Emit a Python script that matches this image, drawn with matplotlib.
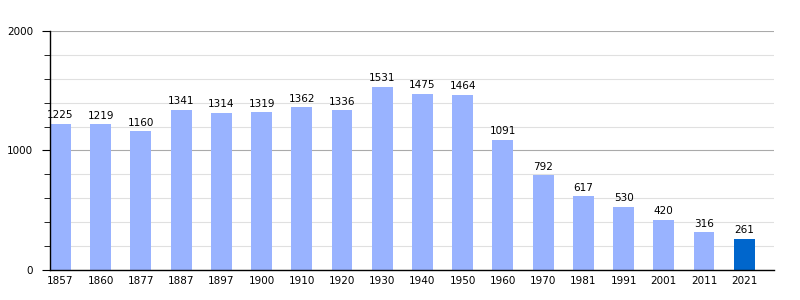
import matplotlib
matplotlib.use("Agg")
from matplotlib import pyplot as plt
from matplotlib.ticker import MultipleLocator
import numpy as np

years = ["1857", "1860", "1877", "1887", "1897", "1900", "1910", "1920", "1930",
         "1940", "1950", "1960", "1970", "1981", "1991", "2001", "2011", "2021"]
population = [1225, 1219, 1160, 1341, 1314, 1319, 1362, 1336, 1531,
              1475, 1464, 1091, 792, 617, 530, 420, 316, 261]

fig = plt.figure(figsize=(8, 3), dpi=100)
ax = fig.add_axes([0.0625, 0.1, 0.905, 0.797])

x = np.arange(len(years))
colors = ['#99b3ff'] * (len(years) - 1) + ['#0066cc']
bw = 0.52
ax.bar(x, population, width=bw, align='edge', color=colors, zorder=2)

for xi, v in zip(x, population):
    ax.text(xi + bw / 2, v + 30, str(v), ha='center', va='bottom', fontsize=7.5)

ax.set_xlim(0, len(years))
ax.set_ylim(0, 2000)
ax.set_xticks(x + bw / 2)
ax.set_xticklabels(years, fontsize=7.5)
ax.tick_params(axis='x', length=0, pad=4)

ax.yaxis.set_major_locator(MultipleLocator(1000))
ax.yaxis.set_minor_locator(MultipleLocator(200))
ax.tick_params(axis='y', which='major', length=6, labelsize=7.5, pad=6)
ax.tick_params(axis='y', which='minor', length=4)
ax.grid(axis='y', which='major', color='#aaaaaa', linewidth=0.8, zorder=0)
ax.grid(axis='y', which='minor', color='#e0e0e0', linewidth=0.8, zorder=0)
ax.set_axisbelow(True)

for s in ['top', 'right']:
    ax.spines[s].set_visible(False)
ax.spines['left'].set_linewidth(1)
ax.spines['bottom'].set_linewidth(1)

fig.savefig("out.png", dpi=100)
